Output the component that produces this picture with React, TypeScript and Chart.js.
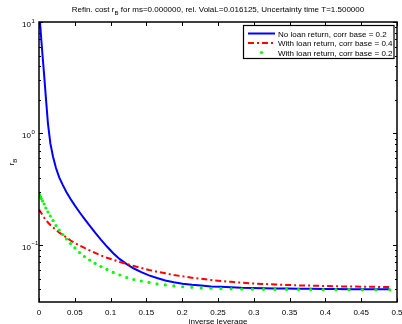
import React, { useEffect, useRef } from "react";
import { Chart, registerables } from "chart.js";

Chart.register(...registerables);

const X_VALUES = [
  0.000196, 0.000784, 0.001764, 0.003136, 0.0049, 0.007056, 0.009604, 0.012544, 0.015876, 0.0196,
  0.023716, 0.028224, 0.033124, 0.038416, 0.0441, 0.050176, 0.056644, 0.063504, 0.070756, 0.0784,
  0.086436, 0.094864, 0.103684, 0.112896, 0.1225, 0.132496, 0.142884, 0.153664, 0.164836, 0.1764,
  0.188356, 0.200704, 0.213444, 0.226576, 0.2401, 0.254016, 0.268324, 0.283024, 0.298116, 0.3136,
  0.329476, 0.345744, 0.362404, 0.379456, 0.3969, 0.414736, 0.432964, 0.451584, 0.470596, 0.49,
];

const NO_RETURN_02 = [
  40, 14, 9.21, 7.04, 5.06, 3.42, 2.1, 1.217, 0.815, 0.618,
  0.4904, 0.4046, 0.3459, 0.2975, 0.258, 0.2252, 0.1965, 0.1714, 0.1489, 0.1292,
  0.1118, 0.0968, 0.0842, 0.0746, 0.0673, 0.0615, 0.057, 0.0534, 0.0505, 0.0481,
  0.0463, 0.0449, 0.0439, 0.0432, 0.0425, 0.0421, 0.0418, 0.0414, 0.0412, 0.041,
  0.0408, 0.0406, 0.0405, 0.0404, 0.0403, 0.0402, 0.0401, 0.0401, 0.04, 0.04,
];

const WITH_RETURN_04 = [
  0.2082, 0.2039, 0.1997, 0.1936, 0.1858, 0.1764, 0.1675, 0.1591, 0.1511, 0.1435,
  0.1363, 0.1295, 0.1229, 0.1168, 0.1097, 0.1042, 0.099, 0.094, 0.0893, 0.0848,
  0.0805, 0.0769, 0.0737, 0.0704, 0.0675, 0.0648, 0.0622, 0.0597, 0.0576, 0.0557,
  0.0538, 0.0523, 0.0509, 0.0497, 0.0485, 0.0475, 0.0467, 0.0459, 0.0452, 0.0447,
  0.0442, 0.0438, 0.0434, 0.0432, 0.0429, 0.0426, 0.0424, 0.0423, 0.0421, 0.0419,
];

const WITH_RETURN_02 = [
  0.2867, 0.2808, 0.2722, 0.2612, 0.248, 0.2332, 0.2147, 0.1977, 0.182, 0.1658,
  0.1496, 0.1363, 0.1242, 0.1132, 0.1031, 0.094, 0.0856, 0.0788, 0.0733, 0.0683,
  0.0641, 0.0603, 0.0567, 0.0538, 0.0511, 0.049, 0.0475, 0.0461, 0.0447, 0.0438,
  0.0429, 0.0422, 0.0417, 0.0412, 0.0409, 0.0406, 0.0404, 0.0402, 0.0401, 0.04,
  0.0399, 0.0399, 0.0398, 0.0398, 0.0397, 0.0397, 0.0397, 0.0396, 0.0396, 0.0396,
];

const SERIES_NAMES = [
  "No loan return, corr base = 0.2",
  "With loan return, corr base = 0.4",
  "With loan return, corr base = 0.2",
];

const X_TICKS = [0, 0.05, 0.1, 0.15, 0.2, 0.25, 0.3, 0.35, 0.4, 0.45, 0.5];
const X_TICK_LABELS = ["0", "0.05", "0.1", "0.15", "0.2", "0.25", "0.3", "0.35", "0.4", "0.45", "0.5"];
const Y_MAJOR_TICKS = [0.1, 1, 10];
const Y_TICK_EXPONENTS = ["\u22121", "0", "1"];
const Y_MINOR_TICKS = [
  0.04, 0.05, 0.06, 0.07, 0.08, 0.09,
  0.2, 0.3, 0.4, 0.5, 0.6, 0.7, 0.8, 0.9,
  2, 3, 4, 5, 6, 7, 8, 9,
];

const TITLE_PRE = "Refin. cost r";
const TITLE_SUB = "B";
const TITLE_POST = " for ms=0.000000, rel. VolaL=0.016125, Uncertainty time T=1.500000";
const X_LABEL = "inverse leverage";

const FONT = '"Liberation Sans", Arial, sans-serif';

const toPoints = (ys: number[]) => X_VALUES.map((x, i) => ({ x, y: ys[i] }));

const decorPlugin = {
  id: "decor",
  afterDatasetsDraw(chart: any) {
    const { ctx, chartArea } = chart;
    const { left, right, top, bottom } = chartArea;
    const xs = chart.scales.x;
    const ys = chart.scales.y;
    ctx.save();
    ctx.strokeStyle = "#000";
    ctx.fillStyle = "#000";

    // ticks
    ctx.lineWidth = 1;
    ctx.beginPath();
    X_TICKS.forEach((t) => {
      const px = Math.round(xs.getPixelForValue(t)) + 0.5;
      ctx.moveTo(px, bottom);
      ctx.lineTo(px, bottom - 4);
      ctx.moveTo(px, top);
      ctx.lineTo(px, top + 4);
    });
    Y_MAJOR_TICKS.forEach((t) => {
      const py = Math.round(ys.getPixelForValue(t)) + 0.5;
      ctx.moveTo(left, py);
      ctx.lineTo(left + 4, py);
      ctx.moveTo(right, py);
      ctx.lineTo(right - 4, py);
    });
    Y_MINOR_TICKS.forEach((t) => {
      const py = Math.round(ys.getPixelForValue(t)) + 0.5;
      ctx.moveTo(left, py);
      ctx.lineTo(left + 2, py);
      ctx.moveTo(right, py);
      ctx.lineTo(right - 2, py);
    });
    ctx.stroke();

    // frame
    ctx.lineWidth = 1.5;
    ctx.strokeRect(left, top, right - left, bottom - top);

    // x tick labels
    ctx.font = `8px ${FONT}`;
    ctx.textAlign = "center";
    ctx.textBaseline = "alphabetic";
    X_TICKS.forEach((t, i) => {
      ctx.fillText(X_TICK_LABELS[i], xs.getPixelForValue(t), bottom + 12.5);
    });

    // y tick labels
    Y_MAJOR_TICKS.forEach((t, i) => {
      const py = ys.getPixelForValue(t);
      ctx.font = `8px ${FONT}`;
      ctx.textAlign = "right";
      ctx.fillText("10", 31, py + 5);
      ctx.font = `6px ${FONT}`;
      ctx.textAlign = "left";
      ctx.fillText(Y_TICK_EXPONENTS[i], 31.5, py + 0.5);
    });

    // x label
    ctx.font = `8px ${FONT}`;
    ctx.textAlign = "center";
    ctx.fillText(X_LABEL, (left + right) / 2, bottom + 21.5);

    // y label (rotated)
    ctx.save();
    ctx.translate(14, (top + bottom) / 2);
    ctx.rotate(-Math.PI / 2);
    ctx.font = `8px ${FONT}`;
    const wr = ctx.measureText("r").width;
    ctx.font = `6px ${FONT}`;
    const wb = ctx.measureText("B").width;
    const sx = -(wr + wb) / 2;
    ctx.textAlign = "left";
    ctx.font = `8px ${FONT}`;
    ctx.fillText("r", sx, 0);
    ctx.font = `6px ${FONT}`;
    ctx.fillText("B", sx + wr, 2.5);
    ctx.restore();

    // title
    ctx.textAlign = "left";
    ctx.font = `8px ${FONT}`;
    const w1 = ctx.measureText(TITLE_PRE).width;
    const w3 = ctx.measureText(TITLE_POST).width;
    ctx.font = `6px ${FONT}`;
    const w2 = ctx.measureText(TITLE_SUB).width;
    let tx = (left + right) / 2 - (w1 + w2 + w3) / 2;
    const ty = 12;
    ctx.font = `8px ${FONT}`;
    ctx.fillText(TITLE_PRE, tx, ty);
    tx += w1;
    ctx.font = `6px ${FONT}`;
    ctx.fillText(TITLE_SUB, tx, ty + 2.5);
    tx += w2;
    ctx.font = `8px ${FONT}`;
    ctx.fillText(TITLE_POST, tx, ty);

    // legend
    const lx = 243.5, ly = 25.5, lw = 150.5, lh = 33;
    ctx.fillStyle = "#fff";
    ctx.fillRect(lx, ly, lw, lh);
    ctx.strokeStyle = "#000";
    ctx.lineWidth = 1.2;
    ctx.strokeRect(lx, ly, lw, lh);
    const rows = [33.5, 43, 52.5];
    const colors = ["#0000ff", "#ff0000", "#00ff00"];
    rows.forEach((ry, i) => {
      ctx.strokeStyle = colors[i];
      ctx.fillStyle = colors[i];
      ctx.lineWidth = 2;
      if (i === 0) {
        ctx.setLineDash([]);
        ctx.beginPath();
        ctx.moveTo(248, ry);
        ctx.lineTo(275, ry);
        ctx.stroke();
      } else if (i === 1) {
        ctx.setLineDash([6, 3, 2, 3]);
        ctx.beginPath();
        ctx.moveTo(248, ry);
        ctx.lineTo(275, ry);
        ctx.stroke();
        ctx.setLineDash([]);
      } else {
        ctx.beginPath();
        ctx.arc(261.5, ry, 1.6, 0, Math.PI * 2);
        ctx.fill();
      }
      ctx.fillStyle = "#000";
      ctx.font = `8px ${FONT}`;
      ctx.textAlign = "left";
      ctx.fillText(SERIES_NAMES[i], 278, ry + 3);
    });

    ctx.restore();
  },
};

export default function App() {
  const ref = useRef<HTMLCanvasElement>(null);
  useEffect(() => {
    const canvas = ref.current;
    if (!canvas) return;
    const chart = new Chart(canvas, {
      type: "scatter",
      data: {
        datasets: [
          {
            label: SERIES_NAMES[0],
            data: toPoints(NO_RETURN_02),
            showLine: true,
            borderColor: "#0000ff",
            backgroundColor: "#0000ff",
            borderWidth: 2,
            pointRadius: 0,
            tension: 0,
            order: 3,
          },
          {
            label: SERIES_NAMES[1],
            data: toPoints(WITH_RETURN_04),
            showLine: true,
            borderColor: "#ff0000",
            backgroundColor: "#ff0000",
            borderWidth: 2,
            borderDash: [6, 3, 2, 3],
            pointRadius: 0,
            tension: 0,
            order: 2,
          },
          {
            label: SERIES_NAMES[2],
            data: toPoints(WITH_RETURN_02),
            showLine: false,
            pointRadius: 1.6,
            pointBorderWidth: 0,
            pointBackgroundColor: "#00ff00",
            backgroundColor: "#00ff00",
            borderColor: "#00ff00",
            order: 1,
          },
        ],
      },
      options: {
        responsive: false,
        devicePixelRatio: 1,
        animation: false,
        events: [],
        layout: { padding: { left: 39, top: 22, right: 5, bottom: 22 } },
        plugins: {
          legend: { display: false },
          tooltip: { enabled: false },
          title: { display: false },
        },
        scales: {
          x: { type: "linear", min: 0, max: 0.5, display: false },
          y: { type: "logarithmic", min: 0.0308, max: 10, display: false },
        },
      },
      plugins: [decorPlugin],
    } as any);
    return () => chart.destroy();
  }, []);
  return (
    <div style={{ position: "absolute", left: 0, top: 0, width: 402, height: 324, background: "#fff" }}>
      <canvas ref={ref} width={402} height={324} style={{ width: 402, height: 324, display: "block" }} />
    </div>
  );
}
